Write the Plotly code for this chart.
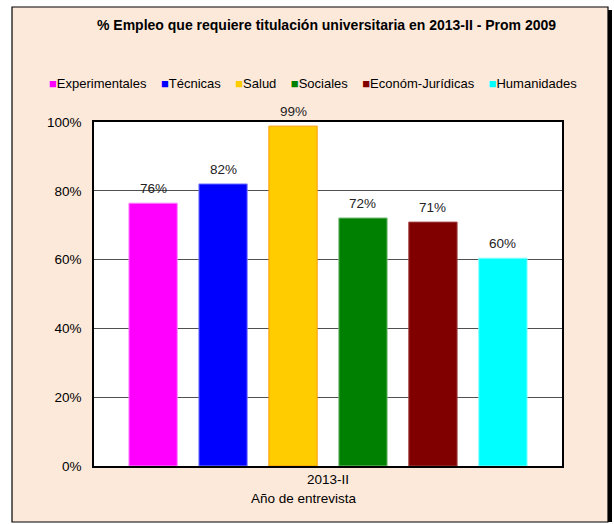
import plotly.graph_objects as go

categories = ["Experimentales", "Técnicas", "Salud", "Sociales", "Económ-Jurídicas", "Humanidades"]
values = [0.764, 0.82, 0.988, 0.721, 0.709, 0.604]
colors = ["#FF00FF", "#0000FF", "#FFCC00", "#008000", "#800000", "#00FFFF"]
borders = ["#FF80FF", "#8080FF", "#FF9900", "#7FBF7F", "#A04040", "#80FFFF"]
period = ["2013-II"]
y_ticks = [0, 0.2, 0.4, 0.6, 0.8, 1.0]
title = "% Empleo que requiere titulación universitaria en 2013-II - Prom 2009"
x_title = "Año de entrevista"

W, H = 614, 524
ML, MR, MT, MB = 94, 52, 122, 58
PW, PH = W - ML - MR, H - MT - MB
FONT = "Liberation Sans, Arial, sans-serif"
PEACH = "#FDE9DA"
BARGAP, GROUPGAP = 0.103, 0.31


def px(x):
    return (x - ML) / PW


def py(y):
    return (H - MB - y) / PH


fig = go.Figure()
for name, v, c, b in zip(categories, values, colors, borders):
    fig.add_trace(go.Bar(
        x=period, y=[v], name=name,
        marker=dict(color=c, line=dict(color=b, width=1)),
        showlegend=False,
    ))

n = len(categories)
slot = PW * (1 - BARGAP) / n
label_annots = [
    dict(text=f"{v:.0%}", x=period[0], y=v, xref="x", yref="y",
         xshift=(i - (n - 1) / 2) * slot, yshift=5,
         xanchor="center", yanchor="bottom", showarrow=False,
         font=dict(size=13.5, color="#222222", family=FONT))
    for i, v in enumerate(values)
]

FL, FR, FT, FB = 12, 608, 7, 522
shapes = [
    dict(type="rect", xref="paper", yref="paper", x0=px(0), x1=px(FL), y0=py(H), y1=py(0),
         fillcolor="white", line=dict(width=0), layer="above"),
    dict(type="rect", xref="paper", yref="paper", x0=px(FR), x1=px(W), y0=py(H), y1=py(0),
         fillcolor="white", line=dict(width=0), layer="above"),
    dict(type="rect", xref="paper", yref="paper", x0=px(0), x1=px(W), y0=py(FT), y1=py(0),
         fillcolor="white", line=dict(width=0), layer="above"),
    dict(type="rect", xref="paper", yref="paper", x0=px(0), x1=px(W), y0=py(H), y1=py(FB),
         fillcolor="white", line=dict(width=0), layer="above"),
    # shadow on the right
    dict(type="rect", xref="paper", yref="paper", x0=px(FR), x1=px(FR + 4), y0=py(FB), y1=py(FT + 3),
         fillcolor="#000000", line=dict(width=0), layer="above"),
    dict(type="rect", xref="paper", yref="paper", x0=px(FL), x1=px(FR), y0=py(FB), y1=py(FT),
         line=dict(color="#000000", width=1.2), layer="above"),
]

sp = "\u00a0" * 4
legend_text = sp.join(
    f'<span style="color:{c}">■</span>{name}' for name, c in zip(categories, colors)
)

annotations = label_annots + [
    dict(text=f"<b>{title}</b>", xref="paper", yref="paper", x=px(326), y=py(25),
         xanchor="center", yanchor="middle", showarrow=False,
         font=dict(size=14, color="#000000", family=FONT)),
    dict(text=legend_text, xref="paper", yref="paper", x=px(47), y=py(83),
         xanchor="left", yanchor="middle", showarrow=False,
         font=dict(size=13, color="#000000", family=FONT)),
    dict(text=x_title, xref="paper", yref="paper", x=px(304), y=py(498),
         xanchor="center", yanchor="middle", showarrow=False,
         font=dict(size=13.5, color="#000000", family=FONT)),
]

fig.update_layout(
    width=W, height=H,
    margin=dict(l=ML, r=MR, t=MT, b=MB, pad=0),
    paper_bgcolor=PEACH, plot_bgcolor="white",
    barmode="group", bargap=BARGAP, bargroupgap=GROUPGAP,
    shapes=shapes, annotations=annotations,
    font=dict(family=FONT, size=13.5, color="#000000"),
    xaxis=dict(showline=True, linecolor="#000000", linewidth=1.5, mirror=True,
               showgrid=False, ticks="", tickfont=dict(size=13.5, color="#000000")),
    yaxis=dict(range=[0, 1], tickvals=y_ticks, tickformat=".0%",
               showline=True, linecolor="#000000", linewidth=1.5, mirror=True,
               showgrid=True, gridcolor="#505050", gridwidth=1, zeroline=False,
               ticks="", ticklabelstandoff=8,
               tickfont=dict(size=13.5, color="#000000")),
)

fig.write_html("out.html", config={"displayModeBar": False},
               post_script="document.body.style.margin='0';document.body.style.padding='0';")
